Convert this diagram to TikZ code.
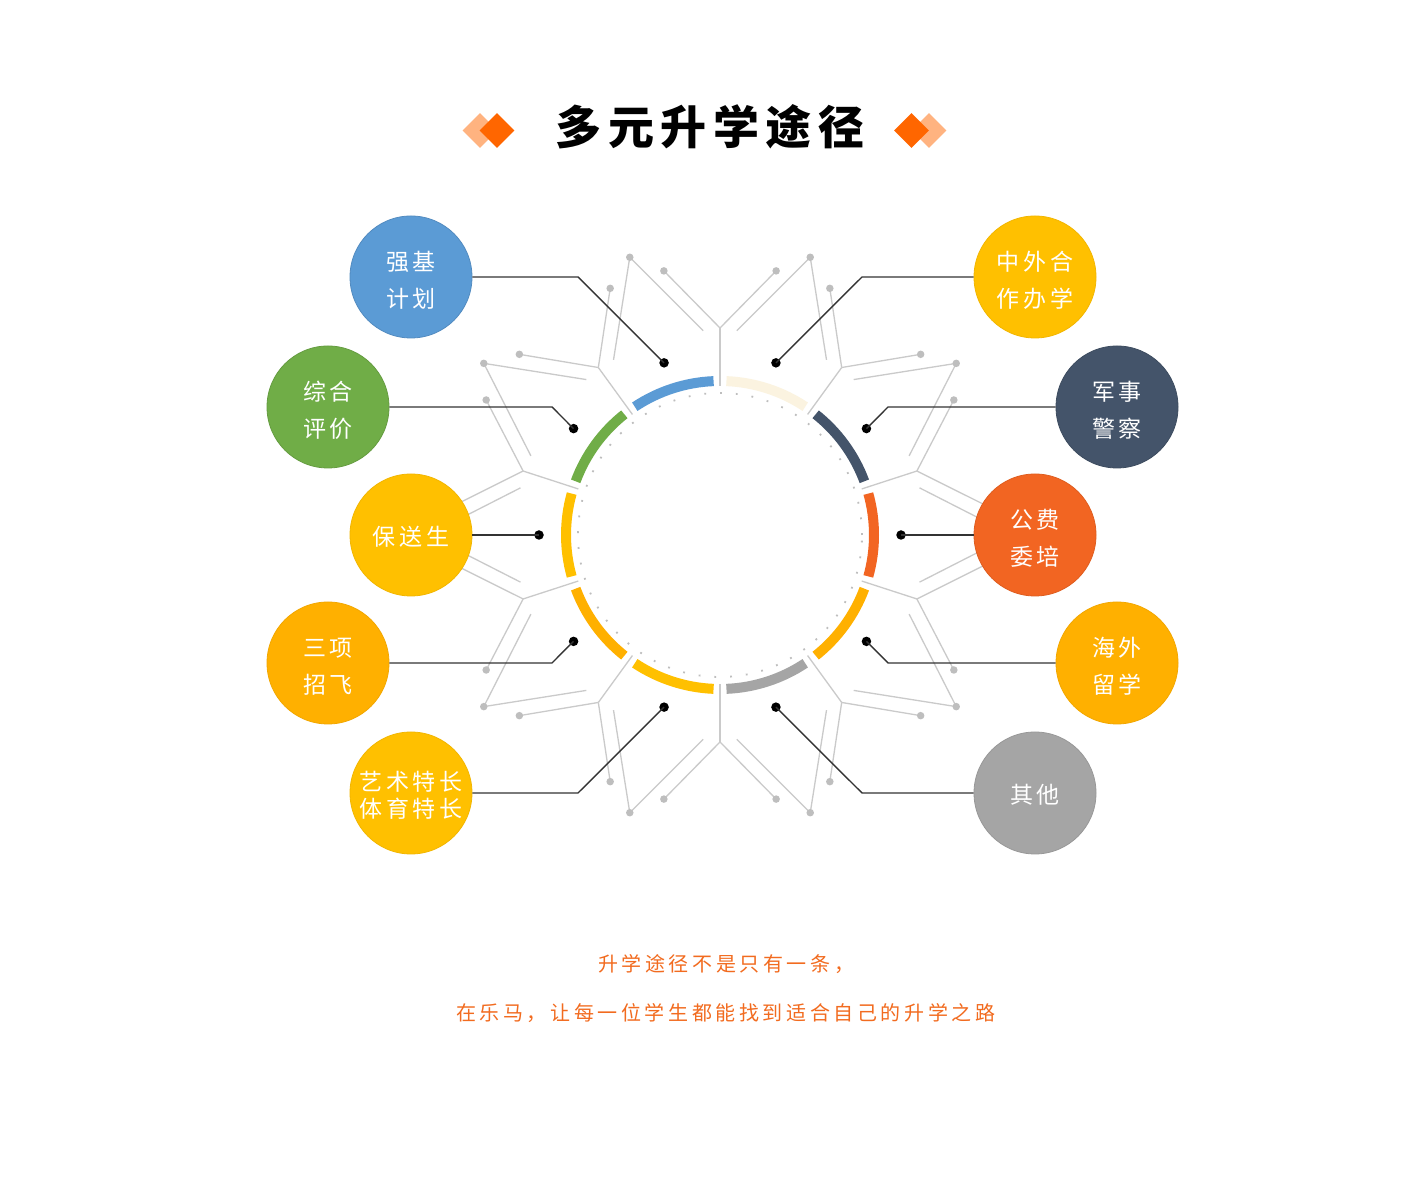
\documentclass[tikz,border=0pt]{standalone}
\usepackage{fontspec}
\usetikzlibrary{shapes.geometric}
\newfontfamily\cjk{Noto Sans CJK SC}
\newfontfamily\cjkls[LetterSpace=16]{Noto Sans CJK SC}
\newfontfamily\cjktt[LetterSpace=14]{Noto Sans CJK SC}
\newfontfamily\cjkft[LetterSpace=18]{Noto Sans CJK SC}
\definecolor{cblue}{HTML}{5B9BD5}
\definecolor{cgreen}{HTML}{70AD47}
\definecolor{cyel}{HTML}{FFC000}
\definecolor{cyeltwo}{HTML}{FFB000}
\definecolor{cgray}{HTML}{A5A5A5}
\definecolor{corange}{HTML}{F26522}
\definecolor{cslate}{HTML}{44546A}
\definecolor{ccream}{HTML}{FBF3E0}
\definecolor{dkor}{HTML}{FF6600}
\definecolor{ltor}{HTML}{FFB380}
\definecolor{txtor}{HTML}{F26B1F}
\definecolor{decogray}{HTML}{CACACA}
\definecolor{dotgray}{HTML}{BEBEBE}
\definecolor{connc}{HTML}{333333}
\tikzset{
  deco/.style={draw=decogray, line width=1.3pt},
  gdot/.style={circle, fill=dotgray, minimum size=7.5pt, inner sep=0pt},
  bdot/.style={circle, fill=black, minimum size=9.5pt, inner sep=0pt},
  conn/.style={draw=connc, line width=1.4pt},
  bubble/.style={circle, minimum size=122pt, inner sep=0pt, line width=0.8pt},
  btext/.style={text=white, font=\cjkls\fontsize{23}{37}\selectfont, align=center, inner sep=0pt, yshift=-3.5pt},
  btextone/.style={text=white, font=\cjkls\fontsize{23}{37}\selectfont, inner sep=0pt, yshift=-1.5pt},
  tdiamond/.style={diamond, minimum width=35pt, minimum height=35pt, inner sep=0pt},
}
\begin{document}
\begin{tikzpicture}[x=1pt,y=1pt]
\fill[white] (0,0) rectangle (1420,1190);
\useasboundingbox (0,0) rectangle (1420,1190);

% title
\node[tdiamond, fill=ltor] (tl2) at (480,1059.5) {};
\node[tdiamond, fill=dkor] (tl1) at (497,1059.5) {};
\node[tdiamond, fill=ltor] (tr2) at (929,1059.5) {};
\node[tdiamond, fill=dkor] (tr1) at (911.5,1059.5) {};
\node[font=\cjktt\bfseries\fontsize{46}{46}\selectfont, inner sep=0pt] (title) at (710,1063) {多元升学途径};

% decorative star
\begin{scope}[shift={(720,655)}]
\foreach \k in {0,...,9}{
  \pgfmathsetmacro\t{90+36*\k}
  \pgfmathsetmacro\m{\t+18}
  \pgfmathsetmacro\n{\t+36}
  \pgfmathsetmacro\da{\m-6}
  \pgfmathsetmacro\db{\m+6}
  \pgfmathsetmacro\ea{\t+4.7}
  \pgfmathsetmacro\eb{\n-4.7}
  \draw[deco] (\t:149) -- (\t:207);
  \draw[deco] (\t:207) -- (\da:270);
  \draw[deco] (\n:207) -- (\db:270);
  \draw[deco] (\ea:205) -- (\m:292) -- (\eb:205);
  \node[gdot] at (\da:270) {};
  \node[gdot] at (\db:270) {};
  \node[gdot] at (\m:292) {};
}
% ring arcs
\foreach \k/\c in {0/cblue,1/cgreen,2/cyel,3/cyeltwo,4/cyel,5/cgray,6/cyeltwo,7/corange,8/cslate,9/ccream}{
  \pgfmathsetmacro\sa{90+36*\k+2.4}
  \pgfmathsetmacro\se{90+36*\k+33.6}
  \draw[\c, line width=10pt] (\sa:154) arc[start angle=\sa, end angle=\se, radius=154];
}
\draw[dotgray, line width=1.8pt, dash pattern=on 1.8pt off 14pt] (0,0) circle[radius=142];
% black dots
\node[bdot] (d1) at (108:181) {};
\node[bdot] (d2) at (144:181) {};
\node[bdot] (d3) at (180:181) {};
\node[bdot] (d4) at (216:181) {};
\node[bdot] (d5) at (252:181) {};
\node[bdot] (d6) at (72:181) {};
\node[bdot] (d7) at (36:181) {};
\node[bdot] (d8) at (0:181) {};
\node[bdot] (d9) at (-36:181) {};
\node[bdot] (d10) at (-72:181) {};
\end{scope}

% bubbles
\node[bubble, fill=cblue, draw=cblue!90!black, label={[btext]center:{强基\\计划}}] (b1) at (411,913) {};
\node[bubble, fill=cgreen, draw=cgreen!90!black, label={[btext]center:{综合\\评价}}] (b2) at (328,783) {};
\node[bubble, fill=cyel, draw=cyel!95!black, label={[btextone]center:{保送生}}] (b3) at (411,655) {};
\node[bubble, fill=cyeltwo, draw=cyeltwo!95!black, label={[btext]center:{三项\\招飞}}] (b4) at (328,527) {};
\node[bubble, fill=cyel, draw=cyel!95!black, label={[btext, font=\cjkls\fontsize{23}{27}\selectfont, yshift=1pt]center:{艺术特长\\体育特长}}] (b5) at (411,397) {};
\node[bubble, fill=cyel, draw=cyel!95!black, label={[btext]center:{中外合\\作办学}}] (b6) at (1035,913) {};
\node[bubble, fill=cslate, draw=cslate!90!black, label={[btext]center:{军事\\警察}}] (b7) at (1117,783) {};
\node[bubble, fill=corange, draw=corange!92!black, label={[btext]center:{公费\\委培}}] (b8) at (1035,655) {};
\node[bubble, fill=cyeltwo, draw=cyeltwo!95!black, label={[btext]center:{海外\\留学}}] (b9) at (1117,527) {};
\node[bubble, fill=cgray, draw=cgray!92!black, label={[btextone]center:{其他}}] (b10) at (1035,397) {};

% elbows
\coordinate (e1) at (578,913);
\coordinate (e2) at (552,783);
\coordinate (e4) at (552,527);
\coordinate (e5) at (578,397);
\coordinate (e6) at (862,913);
\coordinate (e7) at (888,783);
\coordinate (e9) at (888,527);
\coordinate (e10) at (862,397);

\draw[conn] (b1.east) -- (e1) -- (d1.center);
\draw[conn] (b2.east) -- (e2) -- (d2.center);
\draw[conn] (b3.east) -- (d3.center);
\draw[conn] (b4.east) -- (e4) -- (d4.center);
\draw[conn] (b5.east) -- (e5) -- (d5.center);
\draw[conn] (b6.west) -- (e6) -- (d6.center);
\draw[conn] (b7.west) -- (e7) -- (d7.center);
\draw[conn] (b8.west) -- (d8.center);
\draw[conn] (b9.west) -- (e9) -- (d9.center);
\draw[conn] (b10.west) -- (e10) -- (d10.center);

% bottom text
\node[font=\cjkft\fontsize{20}{20}\selectfont, text=txtor, anchor=west, inner sep=0pt] (s1) at (598,226) {升学途径不是只有一条，};
\node[font=\cjkft\fontsize{20}{20}\selectfont, text=txtor, anchor=west, inner sep=0pt] (s2) at (456,177) {在乐马，让每一位学生都能找到适合自己的升学之路};
\end{tikzpicture}
\end{document}
